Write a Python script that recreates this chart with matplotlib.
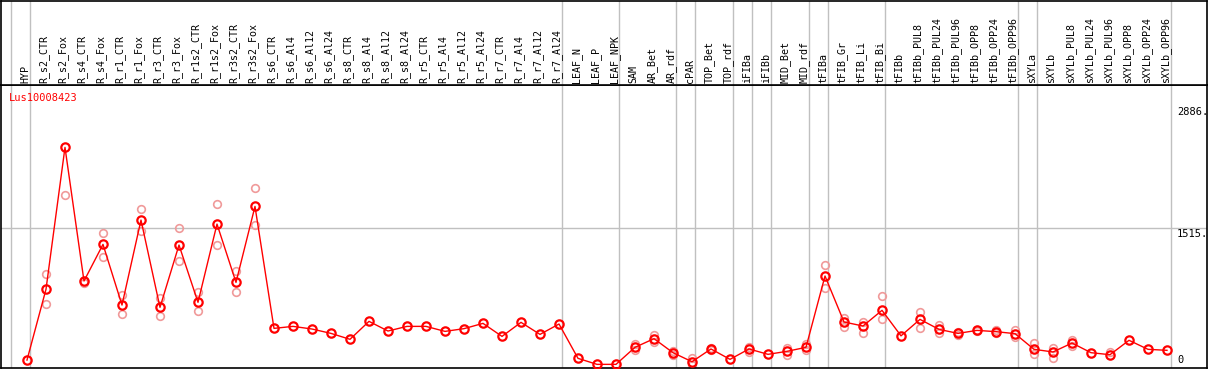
import matplotlib
matplotlib.use("Agg")
import matplotlib.pyplot as plt
import matplotlib.transforms as mtransforms
import numpy as np

gene = "Lus10008423"

samples = ["HYP", "R_s2_CTR", "R_s2_Fox", "R_s4_CTR", "R_s4_Fox", "R_r1_CTR", "R_r1_Fox",
           "R_r3_CTR", "R_r3_Fox", "R_r1s2_CTR", "R_r1s2_Fox", "R_r3s2_CTR", "R_r3s2_Fox",
           "R_s6_CTR", "R_s6_Al4", "R_s6_Al12", "R_s6_Al24", "R_s8_CTR", "R_s8_Al4",
           "R_s8_Al12", "R_s8_Al24", "R_r5_CTR", "R_r5_Al4", "R_r5_Al12", "R_r5_Al24",
           "R_r7_CTR", "R_r7_Al4", "R_r7_Al12", "R_r7_Al24", "LEAF_N", "LEAF_P", "LEAF_NPK",
           "SAM", "AR_Bet", "AR_rdf", "cPAR", "TOP_Bet", "TOP_rdf", "iFIBa", "iFIBb",
           "MID_Bet", "MID_rdf", "tFIBa", "tFIB_Gr", "tFIB_Li", "tFIB_Bi", "tFIBb",
           "tFIBb_PUL8", "tFIBb_PUL24", "tFIBb_PUL96", "tFIBb_OPP8", "tFIBb_OPP24",
           "tFIBb_OPP96", "sXYLa", "sXYLb", "sXYLb_PUL8", "sXYLb_PUL24", "sXYLb_PUL96",
           "sXYLb_OPP8", "sXYLb_OPP24", "sXYLb_OPP96"]

central = [65, 842, 2400, 933, 1335, 669, 1602, 644, 1328, 699, 1558, 918, 1752,
           413, 435, 406, 358, 293, 490, 384, 435, 435, 380, 410, 468, 325, 479, 347, 461,
           84, 18, 18, 205, 300, 146, 47, 187, 73, 187, 128, 161, 205, 988, 483, 439, 611,
           331, 512, 402, 358, 391, 377, 355, 183, 154, 252, 146, 124, 282, 183, 172]

nan = np.nan
rep_a = [nan, 1010, 1873, 910, 1456, 779, 1719, 743, 1511, 815, 1774, 1042, 1950,
         nan, nan, nan, nan, nan, nan, nan, nan, nan, nan, nan, nan, nan, nan, nan, nan,
         nan, nan, nan, 241, 344, 165, 84, 200, nan, 212, nan, 198, 241, 1105, 527, 483, 768,
         nan, 593, 446, 375, 400, 395, 395, 256, 201, 285, nan, 150, nan, nan, nan]
rep_b = [nan, 677, nan, nan, 1200, 567, 1485, 549, 1149, 600, 1324, 808, 1544,
         nan, nan, nan, nan, nan, nan, nan, nan, nan, nan, nan, nan, nan, nan, nan, nan,
         nan, nan, nan, 175, 267, 120, 7, 175, nan, 157, nan, 121, 175, 853, 425, 358, 512,
         nan, 420, 358, 345, 380, 360, 322, 132, 91, 223, nan, nan, nan, nan, nan]

# index of the last sample in each group (grey separators drawn after it)
group_ends = [-1, 0, 28, 31, 34, 35, 37, 38, 39, 41, 42, 45, 52, 53, 60]

ytick_vals = [0, 1515, 2886]
ytick_labels = ["0", "1515.", "2886."]

W, H = 1209, 370
fig = plt.figure(figsize=(W / 100, H / 100), dpi=100)
left, right = 1 / W, 1207 / W
ax = fig.add_axes([left, (H - 368) / H, right - left, (368 - 85) / H])
hx = fig.add_axes([left, (H - 85) / H, right - left, 84.5 / H], sharex=ax)

x = np.arange(len(samples))
ax.set_xlim(-1.368, 62.105)
ax.set_ylim(-22, 3085)

mono = "DejaVu Sans Mono"
grey = "#c0c0c0"

for a in (ax, hx):
    for g in group_ends:
        a.axvline(g + 0.184, color=grey, lw=1, zorder=0)
    for s in a.spines.values():
        s.set_color("black")
        s.set_linewidth(1.2)
    a.set_xticks([])
    a.set_yticks([])

ax.axhline(1515, color=grey, lw=1, zorder=0)

ax.plot(x, rep_a, "o", ms=5.5, mfc="none", mec="#f09a9a", mew=1.2, zorder=2)
ax.plot(x, rep_b, "o", ms=5.5, mfc="none", mec="#f09a9a", mew=1.2, zorder=2)
ax.plot(x, central, "-", color="red", lw=1, zorder=3)
ax.plot(x, central, "o", ms=6, mfc="none", mec="red", mew=1.6, zorder=4)

ax.text(0.0065, 0.955, gene, color="red", fontsize=7.5, family=mono,
        transform=ax.transAxes, ha="left", va="center")

# right-hand value labels, drawn inside the frame
for v, lab in zip(ytick_vals, ytick_labels):
    if v == 0:
        off = mtransforms.offset_copy(ax.transData, fig=fig, x=0, y=1, units="dots")
        va = "bottom"
    else:
        off = mtransforms.offset_copy(ax.transData, fig=fig, x=0,
                                      y=-4 if v == 2886 else -1, units="dots")
        va = "top"
    ax.text(60.53, v, lab, fontsize=7.5, family=mono, ha="left", va=va, transform=off)

hx.set_ylim(0, 1)
for i, lab in enumerate(samples):
    hx.text(i - 0.1, 0.02, lab, rotation=90, fontsize=7.2, family=mono,
            ha="center", va="bottom")

fig.savefig("out.png", dpi=100)
